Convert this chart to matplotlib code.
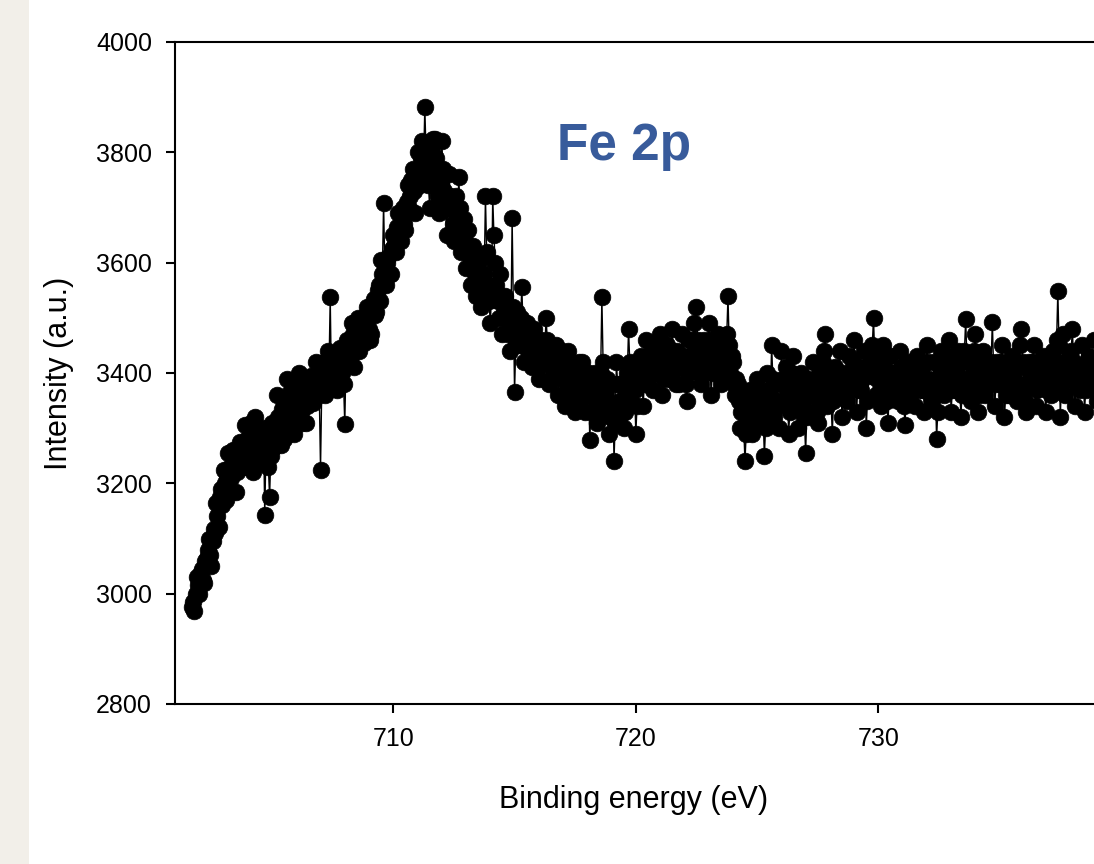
import numpy as np
import matplotlib
matplotlib.use("Agg")
import matplotlib.pyplot as plt
from matplotlib.patches import Rectangle
from matplotlib import font_manager

# ---- data (binding energy grid and intensities) ----
energy_start = 701.7   # eV
energy_step = 0.05     # eV
intensity = [
    2975, 2985, 2968, 3000, 3030, 3015, 3000, 3035, 3045, 3025, 3020, 3060, 3065, 3080, 3100, 3070, 3050, 3095, 3118, 3110,
    3165, 3140, 3120, 3175, 3190, 3160, 3225, 3200, 3170, 3215, 3255, 3230, 3210, 3185, 3260, 3235, 3185, 3220, 3240, 3255,
    3275, 3250, 3230, 3265, 3305, 3280, 3250, 3230, 3290, 3310, 3220, 3255, 3320, 3285, 3260, 3240, 3295, 3270, 3245, 3300,
    3142, 3260, 3280, 3230, 3175, 3250, 3310, 3290, 3265, 3300, 3360, 3320, 3300, 3270, 3335, 3310, 3280, 3345, 3390, 3330,
    3325, 3300, 3370, 3340, 3290, 3355, 3350, 3380, 3400, 3360, 3330, 3310, 3375, 3350, 3310, 3340, 3360, 3390, 3395, 3365,
    3345, 3380, 3420, 3390, 3380, 3360, 3225, 3370, 3400, 3420, 3360, 3390, 3440, 3410, 3537, 3380, 3390, 3420, 3430, 3400,
    3370, 3410, 3445, 3420, 3400, 3380, 3307, 3420, 3460, 3440, 3425, 3455, 3490, 3470, 3410, 3440, 3475, 3500, 3440, 3465,
    3500, 3470, 3455, 3490, 3520, 3500, 3480, 3460, 3470, 3510, 3535, 3505, 3510, 3550, 3560, 3530, 3605, 3580, 3709, 3590,
    3560, 3600, 3610, 3580, 3580, 3625, 3650, 3630, 3620, 3665, 3690, 3650, 3640, 3680, 3700, 3670, 3660, 3710, 3740, 3700,
    3720, 3750, 3770, 3730, 3690, 3760, 3800, 3770, 3740, 3790, 3820, 3780, 3882, 3800, 3780, 3740, 3700, 3760, 3800, 3825,
    3825, 3790, 3760, 3720, 3690, 3740, 3820, 3770, 3730, 3700, 3650, 3710, 3760, 3720, 3700, 3670, 3640, 3690, 3720, 3680,
    3755, 3700, 3620, 3660, 3680, 3640, 3590, 3620, 3660, 3610, 3560, 3600, 3630, 3580, 3540, 3575, 3600, 3560, 3520, 3555,
    3610, 3580, 3720, 3620, 3560, 3530, 3490, 3540, 3720, 3650, 3600, 3560, 3530, 3500, 3580, 3540, 3470, 3510, 3540, 3500,
    3500, 3470, 3440, 3480, 3681, 3520, 3365, 3450, 3510, 3480, 3450, 3500, 3555, 3490, 3420, 3460, 3490, 3440, 3460, 3480,
    3410, 3450, 3480, 3460, 3440, 3410, 3390, 3430, 3460, 3440, 3420, 3450, 3500, 3460, 3380, 3420, 3440, 3410, 3400, 3430,
    3450, 3410, 3360, 3400, 3420, 3440, 3390, 3360, 3340, 3380, 3440, 3410, 3370, 3400, 3410, 3360, 3330, 3370, 3395, 3420,
    3350, 3390, 3420, 3370, 3330, 3360, 3380, 3400, 3279, 3330, 3360, 3390, 3400, 3350, 3310, 3340, 3370, 3400, 3537, 3420,
    3330, 3360, 3390, 3340, 3290, 3320, 3340, 3380, 3240, 3310, 3420, 3380, 3320, 3350, 3380, 3340, 3300, 3330, 3360, 3400,
    3480, 3420, 3350, 3380, 3410, 3370, 3290, 3340, 3390, 3420, 3430, 3400, 3340, 3380, 3460, 3420, 3380, 3400, 3420, 3450,
    3370, 3400, 3440, 3410, 3400, 3430, 3470, 3440, 3360, 3390, 3420, 3450, 3450, 3410, 3390, 3430, 3480, 3440, 3410, 3380,
    3440, 3410, 3380, 3420, 3470, 3430, 3410, 3380, 3350, 3400, 3460, 3430, 3420, 3460, 3490, 3450, 3520, 3460, 3400, 3430,
    3380, 3420, 3460, 3430, 3420, 3450, 3490, 3460, 3360, 3400, 3440, 3410, 3400, 3430, 3470, 3440, 3380, 3410, 3430, 3460,
    3440, 3470, 3539, 3450, 3400, 3430, 3420, 3380, 3360, 3390, 3380, 3350, 3300, 3330, 3340, 3300, 3240, 3290, 3320, 3350,
    3370, 3340, 3290, 3320, 3340, 3370, 3390, 3350, 3310, 3340, 3360, 3320, 3250, 3300, 3400, 3370, 3330, 3360, 3450, 3390,
    3320, 3350, 3380, 3340, 3300, 3350, 3440, 3390, 3350, 3380, 3410, 3370, 3290, 3330, 3370, 3400, 3430, 3380, 3340, 3360,
    3300, 3350, 3400, 3370, 3350, 3320, 3255, 3320, 3390, 3360, 3330, 3370, 3420, 3390, 3360, 3330, 3310, 3350, 3380, 3400,
    3420, 3440, 3471, 3400, 3340, 3370, 3390, 3350, 3290, 3350, 3410, 3380, 3360, 3400, 3440, 3390, 3320, 3360, 3400, 3370,
    3350, 3390, 3430, 3400, 3380, 3420, 3460, 3410, 3330, 3370, 3410, 3380, 3370, 3400, 3440, 3400, 3300, 3350, 3395, 3410,
    3420, 3450, 3500, 3430, 3360, 3390, 3410, 3370, 3340, 3390, 3450, 3410, 3380, 3350, 3310, 3370, 3430, 3400, 3370, 3390,
    3400, 3370, 3350, 3400, 3440, 3410, 3380, 3340, 3305, 3360, 3420, 3390, 3360, 3390, 3410, 3370, 3340, 3390, 3430, 3400,
    3370, 3390, 3410, 3370, 3330, 3390, 3450, 3420, 3390, 3370, 3350, 3380, 3420, 3380, 3280, 3330, 3380, 3410, 3440, 3400,
    3360, 3380, 3400, 3430, 3460, 3400, 3330, 3370, 3410, 3390, 3370, 3410, 3440, 3390, 3320, 3360, 3390, 3440, 3497, 3430,
    3420, 3380, 3350, 3380, 3400, 3440, 3470, 3410, 3330, 3360, 3390, 3420, 3440, 3400, 3360, 3390, 3410, 3380, 3380, 3420,
    3493, 3410, 3340, 3380, 3420, 3400, 3380, 3420, 3450, 3390, 3320, 3360, 3400, 3380, 3360, 3400, 3430, 3410, 3390, 3360,
    3350, 3380, 3410, 3450, 3480, 3420, 3370, 3350, 3330, 3380, 3420, 3400, 3390, 3420, 3450, 3400, 3340, 3370, 3400, 3420,
    3380, 3400, 3430, 3380, 3330, 3370, 3410, 3390, 3360, 3400, 3440, 3420, 3400, 3460, 3548, 3450, 3320, 3380, 3470, 3420,
    3360, 3390, 3420, 3400, 3390, 3440, 3480, 3420, 3340, 3380, 3410, 3390, 3370, 3410, 3450, 3400, 3330, 3370, 3400, 3420,
    3430, 3400, 3380, 3420, 3460, 3400, 3350, 3380, 3410, 3400, 3390, 3420, 3440, 3400, 3360, 3390, 3420, 3400, 3380, 3410,
]
energy = energy_start + energy_step * np.arange(len(intensity))

x_ticks = [710, 720, 730]
y_ticks = [2800, 3000, 3200, 3400, 3600, 3800, 4000]
x_label = "Binding energy (eV)"
y_label = "Intensity (a.u.)"
title_text = "Fe 2p"

# ---- style ----
plt.rcParams['font.family'] = ['Liberation Sans', 'DejaVu Sans']

W, H = 1094, 864
fig = plt.figure(figsize=(W / 100, H / 100), dpi=100)
fig.patch.set_facecolor('white')
fig.patches.append(Rectangle((0, 0), 29 / W, 1, transform=fig.transFigure,
                             facecolor='#f2efe9', edgecolor='none', zorder=0))

left_px, right_px, top_px, bottom_px = 175, 1093, 42, 704
ax = fig.add_axes([left_px / W, (H - bottom_px) / H,
                   (right_px - left_px) / W, (bottom_px - top_px) / H])

ax.plot(energy, intensity, color='black', linewidth=1.0, marker='o',
        markersize=12, markerfacecolor='black', markeredgecolor='black',
        markeredgewidth=0.5)

ax.set_xlim(701.0, 738.85)
ax.set_ylim(2800, 4000)
ax.set_xticks(x_ticks)
ax.set_yticks(y_ticks)

for side in ['left', 'bottom', 'top']:
    ax.spines[side].set_linewidth(1.5)
    ax.spines[side].set_color('black')
ax.spines['right'].set_visible(False)

ax.tick_params(axis='both', direction='out', length=6.5, width=1.5,
               labelsize=18, pad=10, colors='black')
ax.tick_params(top=False, right=False)

ax.set_xlabel(x_label, fontsize=22)
ax.set_ylabel(y_label, fontsize=22)
ax.xaxis.set_label_coords(0.5, -0.122)
ax.yaxis.set_label_coords(-0.11, 0.5)

# title-like annotation
try:
    font_manager.findfont(font_manager.FontProperties(family='Liberation Sans Narrow'),
                          fallback_to_default=False)
    fam, fs = ['Liberation Sans Narrow'], 45
except Exception:
    fam, fs = ['Liberation Sans'], 37
fig.text(557 / W, (H - 160) / H, title_text, fontsize=fs, fontweight='bold',
         family=fam, color='#385b9b', ha='left', va='baseline')

fig.savefig('out.png', dpi=100)
